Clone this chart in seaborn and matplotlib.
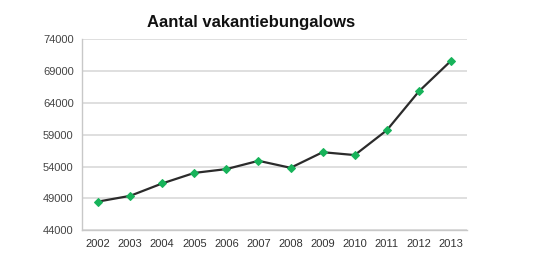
import numpy as np
import pandas as pd
import seaborn as sns
import matplotlib.pyplot as plt

# values
years = ['2002', '2003', '2004', '2005', '2006', '2007',
         '2008', '2009', '2010', '2011', '2012', '2013']
bungalows = [48500, 49400, 51350, 53000, 53600, 54900,
             53800, 56250, 55800, 59700, 65800, 70600]
y_ticks = [44000, 49000, 54000, 59000, 64000, 69000, 74000]

df = pd.DataFrame({'jaar': years, 'aantal': bungalows})

sns.set_style('white')
plt.rcParams['font.family'] = ['Liberation Sans', 'DejaVu Sans']

fig = plt.figure(figsize=(5.58, 2.59), dpi=100)
ax = fig.add_axes([0.147, 0.111, 0.69, 0.738])

sns.lineplot(data=df, x='jaar', y='aantal', ax=ax, color='#2b2b2b',
             linewidth=1.6, marker='D', markersize=4.5,
             markerfacecolor='#17b35a', markeredgecolor='#17b35a')

ax.set_xlim(-0.5, len(years) - 0.5)
ax.set_ylim(y_ticks[0], y_ticks[-1])
ax.set_yticks(y_ticks)
ax.set_yticklabels([str(v) for v in y_ticks])
ax.set_xlabel('')
ax.set_ylabel('')

# gridlines, Excel look
ax.yaxis.grid(True, color='#d9d9d9', linewidth=1.2)
ax.set_axisbelow(True)
for side in ['top', 'right']:
    ax.spines[side].set_visible(False)
for side in ['left', 'bottom']:
    ax.spines[side].set_color('#c8c8c8')
    ax.spines[side].set_linewidth(1.0)

# tick marks at category boundaries
ax.set_xticks(np.arange(-0.5, len(years), 1.0), minor=True)
ax.tick_params(axis='x', which='major', length=0, pad=6,
               labelsize=8, labelcolor='#333333')
ax.tick_params(axis='x', which='minor', length=4, color='#c8c8c8', width=1)
ax.tick_params(axis='y', length=0, pad=6, labelsize=8, labelcolor='#444444')

fig.text(0.45, 0.912, 'Aantal vakantiebungalows', ha='center', va='center',
         fontsize=12, fontweight='bold', color='#111111')

fig.savefig('out.png', dpi=100)
